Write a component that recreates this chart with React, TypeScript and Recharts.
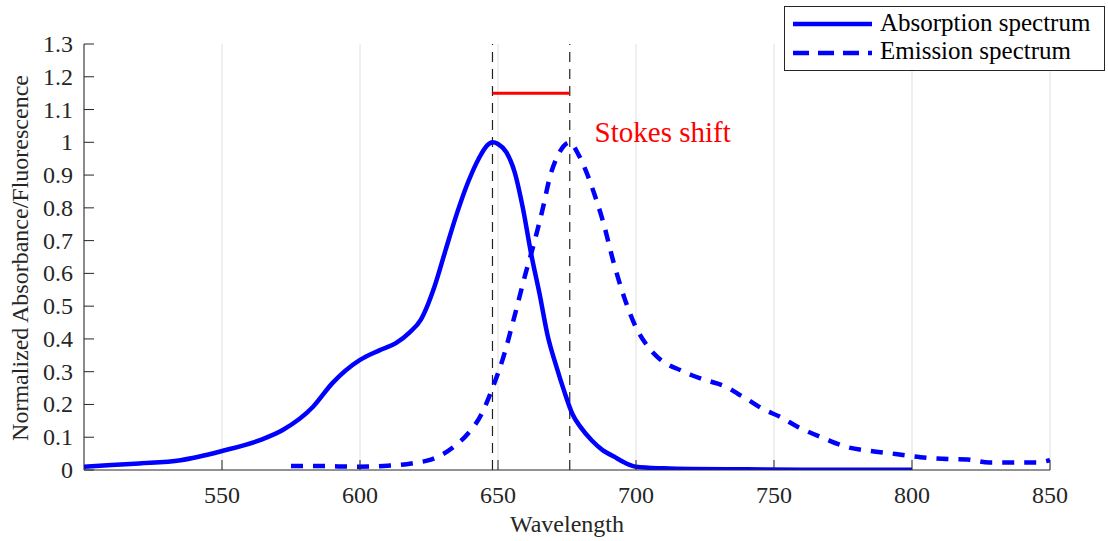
import React from 'react';
import {
  LineChart,
  Line,
  XAxis,
  YAxis,
  CartesianGrid,
  ReferenceLine,
  ReferenceDot,
} from 'recharts';

// wavelength (nm) / normalized absorbance
const absWavelength = [500, 510, 520, 535, 550, 564, 572, 583, 590, 600, 607, 613, 618, 622, 627, 631, 635, 639, 643, 646, 648, 650, 653, 656, 659, 662, 665, 668, 671, 674, 677, 680, 684, 688, 692, 696, 700, 710, 720, 740, 760, 780, 800];
const absValue = [0.01, 0.015, 0.02, 0.03, 0.058, 0.092, 0.122, 0.193, 0.265, 0.336, 0.365, 0.387, 0.42, 0.458, 0.56, 0.671, 0.78, 0.875, 0.95, 0.99, 1.0, 0.995, 0.97, 0.91, 0.8, 0.66, 0.54, 0.41, 0.32, 0.24, 0.17, 0.13, 0.09, 0.06, 0.041, 0.022, 0.01, 0.005, 0.003, 0.002, 0.001, 0.001, 0.001];

// wavelength (nm) / normalized fluorescence
const emWavelength = [575, 585, 599, 610, 615, 620, 625, 630, 634, 639, 644, 648, 652, 656, 660, 663, 666, 669, 672, 676, 679, 682, 685, 688, 692, 696, 700, 704, 708, 712, 716, 720, 725, 729, 733, 737, 741, 746, 752, 759, 768, 776, 785, 794, 803, 811, 820, 828, 837, 845, 850];
const emValue = [0.012, 0.012, 0.01, 0.013, 0.016, 0.022, 0.03, 0.048, 0.071, 0.11, 0.17, 0.25, 0.346, 0.47, 0.6, 0.69, 0.79, 0.9, 0.965, 1.0, 0.965, 0.91, 0.84, 0.76, 0.63, 0.52, 0.435, 0.38, 0.343, 0.32, 0.305, 0.29, 0.275, 0.265, 0.252, 0.232, 0.212, 0.186, 0.163, 0.13, 0.097, 0.071, 0.058, 0.049, 0.039, 0.034, 0.032, 0.023, 0.023, 0.023, 0.03];

const xTicks = [550, 600, 650, 700, 750, 800, 850];
const yTicks = [0, 0.1, 0.2, 0.3, 0.4, 0.5, 0.6, 0.7, 0.8, 0.9, 1, 1.1, 1.2, 1.3];

const absPeak = 648;
const emPeak = 676;
const shiftLevel = 1.15;

const absData = absWavelength.map((x, i) => ({ x, y: absValue[i] }));
const emData = emWavelength.map((x, i) => ({ x, y: emValue[i] }));

const FONT = '"Liberation Serif", "Times New Roman", serif';
const AXIS = '#262626';
const BLUE = '#0000ff';
const TICK_LEN = 10;
const FS = 24;

// MATLAB style ticks: drawn inward from the axis line
const BottomTick = ({ x, y, payload }: any) => (
  <g>
    <line x1={x} y1={y} x2={x} y2={y - TICK_LEN} stroke={AXIS} />
    <text x={x} y={y + 33} textAnchor="middle" fill={AXIS} fontSize={FS} fontFamily={FONT}>
      {payload.value}
    </text>
  </g>
);

const TopTick = ({ x, y }: any) => (
  <line x1={x} y1={y} x2={x} y2={y + TICK_LEN} stroke={AXIS} />
);

const LeftTick = ({ x, y, payload }: any) => (
  <g>
    <line x1={x} y1={y} x2={x + TICK_LEN} y2={y} stroke={AXIS} />
    <text x={x - 11} y={y + 8} textAnchor="end" fill={AXIS} fontSize={FS} fontFamily={FONT}>
      {String(payload.value)}
    </text>
  </g>
);

const RightTick = ({ x, y }: any) => (
  <line x1={x} y1={y} x2={x - TICK_LEN} y2={y} stroke={AXIS} />
);

const legendItems = [
  { name: 'Absorption spectrum', dash: undefined as string | undefined },
  { name: 'Emission spectrum', dash: '16 9' },
];

const App: React.FC = () => {
  return (
    <div
      style={{
        position: 'absolute',
        left: 0,
        top: 0,
        width: 1108,
        height: 541,
        background: '#fff',
        fontFamily: FONT,
      }}
    >
      <LineChart
        width={1108}
        height={541}
        margin={{ top: 44, right: 58, bottom: 31, left: 24 }}
      >
        <CartesianGrid horizontal={false} stroke="#e0e0e0" strokeWidth={1} />
        <XAxis
          type="number"
          dataKey="x"
          domain={[500, 850]}
          ticks={xTicks}
          allowDataOverflow
          height={40}
          stroke={AXIS}
          tickLine={false}
          tickSize={0}
          tickMargin={0}
          tick={<BottomTick />}
          label={() => (
            <text x={567} y={532} textAnchor="middle" fill={AXIS} fontSize={FS} fontFamily={FONT}>
              Wavelength
            </text>
          )}
        />
        <XAxis
          xAxisId="top"
          orientation="top"
          type="number"
          domain={[500, 850]}
          ticks={xTicks}
          allowDataOverflow
          height={0}
          stroke={AXIS}
          tickLine={false}
          tickSize={0}
          tickMargin={0}
          tick={<TopTick />}
        />
        <YAxis
          type="number"
          domain={[0, 1.3]}
          ticks={yTicks}
          allowDataOverflow
          width={60}
          stroke={AXIS}
          tickLine={false}
          tickSize={0}
          tickMargin={0}
          tick={<LeftTick />}
          label={() => (
            <text
              x={28}
              y={258}
              transform="rotate(-90 28 258)"
              textAnchor="middle"
              fill={AXIS}
              fontSize={FS}
              fontFamily={FONT}
            >
              Normalized Absorbance/Fluorescence
            </text>
          )}
        />
        <YAxis
          yAxisId="right"
          orientation="right"
          type="number"
          domain={[0, 1.3]}
          ticks={yTicks}
          allowDataOverflow
          width={0}
          stroke={AXIS}
          tickLine={false}
          tickSize={0}
          tickMargin={0}
          tick={<RightTick />}
        />

        <ReferenceLine x={absPeak} stroke="#222" strokeWidth={1.2} strokeDasharray="10 7" />
        <ReferenceLine x={emPeak} stroke="#222" strokeWidth={1.2} strokeDasharray="10 7" />
        <ReferenceLine
          segment={[
            { x: absPeak, y: shiftLevel },
            { x: emPeak, y: shiftLevel },
          ]}
          stroke="#ff0000"
          strokeWidth={3}
        />
        <ReferenceDot
          x={685}
          y={1.0}
          r={0}
          fill="none"
          stroke="none"
          label={(p: any) => (
            <text x={p.viewBox.x} y={p.viewBox.y} fill="#ff0000" fontSize={29} fontFamily={FONT}>
              Stokes shift
            </text>
          )}
        />

        <Line
          data={absData}
          dataKey="y"
          type="monotone"
          stroke={BLUE}
          strokeWidth={4.5}
          dot={false}
          isAnimationActive={false}
        />
        <Line
          data={emData}
          dataKey="y"
          type="monotone"
          stroke={BLUE}
          strokeWidth={4.5}
          strokeDasharray="12 10"
          dot={false}
          isAnimationActive={false}
        />
      </LineChart>

      <svg
        width={322}
        height={66}
        style={{ position: 'absolute', left: 784, top: 6 }}
      >
        <rect x={0.5} y={0.5} width={320} height={64} fill="#fff" stroke={AXIS} />
        {legendItems.map((item, i) => (
          <g key={item.name}>
            <line
              x1={9}
              y1={18 + i * 29}
              x2={88}
              y2={18 + i * 29}
              stroke={BLUE}
              strokeWidth={4.5}
              strokeDasharray={item.dash}
            />
            <text x={96} y={25 + i * 28} fill="#000" fontSize={25} fontFamily={FONT}>
              {item.name}
            </text>
          </g>
        ))}
      </svg>
    </div>
  );
};

export default App;
